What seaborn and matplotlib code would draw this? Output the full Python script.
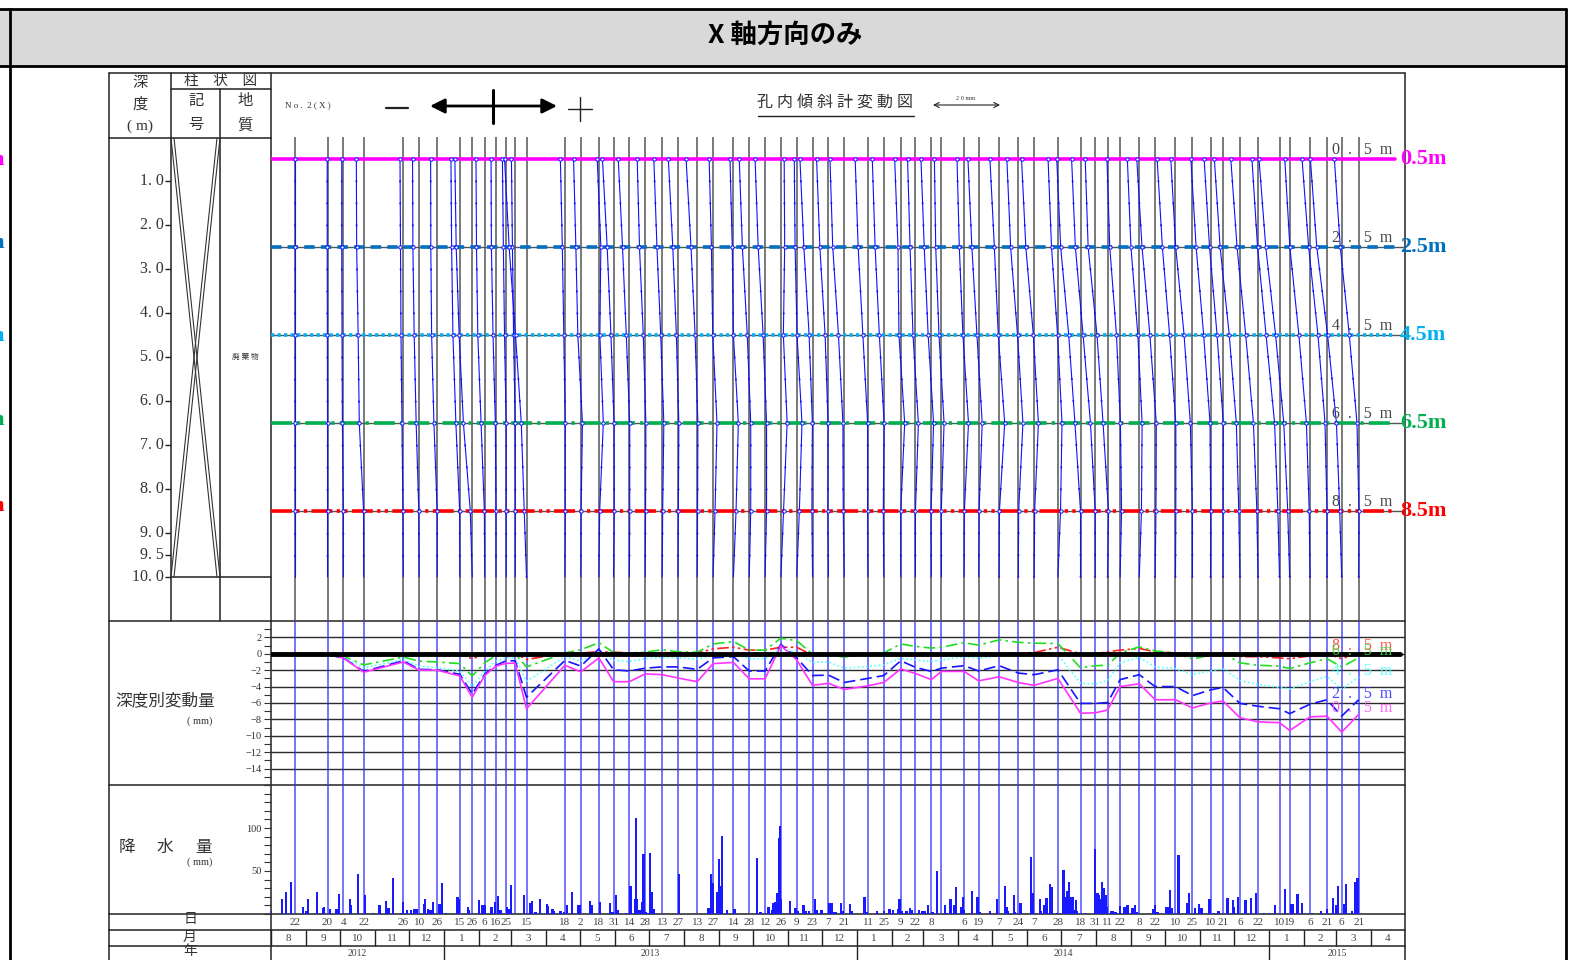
import numpy as np
import pandas as pd
import matplotlib
matplotlib.use('Agg')
import matplotlib.pyplot as plt
import matplotlib.dates as mdates
import matplotlib.transforms as mtrans
import seaborn as sns

sns.set_theme(style='white')
plt.rcParams['font.family'] = ['Liberation Serif', 'Noto Sans CJK JP']
plt.rcParams['axes.unicode_minus'] = True

# measurement dates (one profile each)
meas_dates = [
    '2012-08-22', '2012-09-20', '2012-10-04', '2012-10-22', '2012-11-26', '2012-12-10', '2012-12-26',
    '2013-01-15', '2013-01-26', '2013-02-06', '2013-02-16', '2013-02-25', '2013-03-05', '2013-03-15',
    '2013-04-18', '2013-05-02', '2013-05-18', '2013-05-31', '2013-06-14', '2013-06-28', '2013-07-13',
    '2013-07-27', '2013-08-13', '2013-08-27', '2013-09-14', '2013-09-28', '2013-10-12', '2013-10-26',
    '2013-11-09', '2013-11-23', '2013-12-07', '2013-12-21',
    '2014-01-11', '2014-01-25', '2014-02-09', '2014-02-22', '2014-03-08', '2014-03-17', '2014-04-06',
    '2014-04-19', '2014-05-07', '2014-05-24', '2014-06-07', '2014-06-28', '2014-07-18', '2014-07-31',
    '2014-08-11', '2014-08-22', '2014-09-08', '2014-09-22', '2014-10-10', '2014-10-25', '2014-11-10',
    '2014-11-21', '2014-12-06', '2014-12-22',
    '2015-01-10', '2015-01-19', '2015-02-06', '2015-02-21', '2015-03-06', '2015-03-21']
unlabeled_dates = ['2013-03-05', '2014-03-17']

# displacement by depth (mm)
disp_05 = [0, -0.1, -0.5, -2.25, -1.0, -2.0, -2.0,
           -2.7, -5.3, -2.65, -1.5, -1.15, -1.15, -6.7,
           -1.4, -2.2, -0.5, -3.4, -3.4, -2.45, -2.55,
           -2.95, -3.4, -1.2, -1.05, -3.05, -3.05, 1.0,
           -0.75, -3.85, -3.6, -4.35,
           -3.9, -3.5, -1.85, -2.4, -3.15, -2.15, -2.15,
           -3.3, -2.8, -3.5, -3.85, -3.0, -7.25, -7.2,
           -6.85, -4.0, -3.65, -5.6, -5.6, -6.6, -6.0,
           -5.75, -7.8, -8.3,
           -8.4, -9.35, -7.7, -7.6, -9.55, -7.4]
disp_25 = [0, -0.1, -0.5, -2.15, -0.85, -1.9, -1.95,
           -2.5, -4.9, -2.5, -1.4, -0.85, -0.85, -5.3,
           -0.8, -1.5, 0.6, -1.95, -2.1, -1.75, -1.6,
           -1.6, -1.9, -0.5, -0.35, -2.1, -2.1, 1.15,
           -0.5, -2.65, -2.6, -3.5,
           -3.0, -2.65, -0.85, -1.65, -2.15, -1.75, -1.45,
           -2.1, -1.45, -2.35, -2.55, -1.95, -6.05, -6.05,
           -5.95, -3.15, -2.55, -4.0, -4.0, -5.1, -4.4,
           -4.1, -6.05, -6.4,
           -6.7, -7.3, -6.15, -5.6, -7.6, -5.6]
disp_45 = [0, -0.05, -0.4, -1.7, -0.7, -1.5, -1.7,
           -2.1, -4.0, -2.1, -0.9, -0.5, -0.5, -3.35,
           -0.35, -0.9, 0.3, -0.8, -0.95, -0.6, -0.45,
           -0.5, -0.65, -0.1, 0.0, -0.6, -0.6, 0.75,
           0.1, -1.05, -1.0, -1.75,
           -1.55, -1.35, -0.55, -0.75, -0.95, -0.75, -0.35,
           -0.55, -0.25, -0.25, -0.25, -0.1, -3.6, -3.7,
           -3.25, -1.1, -0.45, -1.6, -1.8, -2.55, -2.1,
           -1.8, -3.25, -3.75,
           -4.1, -4.3, -3.4, -2.75, -4.3, -2.85]
disp_65 = [0, 0, -0.3, -1.35, -0.4, -0.9, -1.0,
           -1.2, -2.7, -1.1, -0.2, 0, 0, -1.6,
           0.1, 0.5, 1.35, 0.15, 0.1, 0.2, 0.5,
           0.25, 0.2, 1.2, 1.5, 0.45, 0.45, 1.9,
           1.6, -0.05, -0.1, -0.4,
           -0.1, 0.1, 1.2, 0.9, 0.7, 0.8, 1.35,
           1.05, 1.7, 1.4, 1.3, 1.25, -1.7, -1.45,
           -1.4, 0.1, 0.85, 0.35, 0.1, -0.65, -0.15,
           0.1, -1.1, -1.4,
           -1.5, -1.8, -1.1, -0.6, -1.6, -0.5]
disp_85 = [0, 0, 0, -0.05, -0.1, -0.1, 0,
           -0.05, -0.6, -0.1, 0, 0, 0.05, -0.7,
           0.1, 0.1, 0.25, 0.2, 0.1, 0.1, 0.15,
           0.1, 0.1, 0.6, 0.8, 0.45, 0.45, 0.8,
           0.8, -0.2, -0.15, -0.3,
           -0.1, -0.15, 0, 0, -0.05, -0.05, 0.1,
           0.1, 0.1, 0.1, 0.15, 0.8, 0, 0,
           0.25, 0.45, 0.65, 0.25, 0.1, 0, 0.05,
           0.05, -0.35, -0.35,
           -0.5, -0.6, -0.25, 0, -0.6, 0.1]

# daily rainfall (days since 2012-08-01, mm)
rain_day = [0, 10, 13, 18, 28, 31, 33, 41, 46, 47, 52, 58, 60, 70, 71, 77, 83, 90, 96, 102,
            104, 108, 115, 117, 120, 124, 127, 129, 135, 136, 139, 141, 143, 149, 151, 155, 165, 166, 174, 175,
            184, 187, 189, 195, 198, 201, 203, 209, 211, 212, 224, 229, 231, 234, 238, 244, 245, 249, 250, 256,
            259, 262, 266, 272, 273, 282, 284, 291, 300, 302, 305, 307, 314, 318, 322, 323, 324, 326, 328, 329,
            330, 332, 333, 335, 337, 339, 361, 387, 389, 391, 395, 396, 398, 399, 403, 410, 430, 433, 440, 443,
            444, 446, 448, 449, 450, 451, 459, 464, 466, 471, 473, 476, 481, 483, 487, 494, 496, 498,
            500, 504, 506, 512, 514, 525, 527, 536, 542, 547, 550, 555, 556, 558, 562, 565, 567, 573, 576, 578,
            581, 585, 589, 596, 598, 601, 604, 606, 610, 612, 613, 620, 625, 627, 636, 642, 649, 651, 652, 657,
            658, 663, 672, 674, 680, 681, 684, 686, 689, 691, 695, 701, 703, 704, 706, 708, 709, 711, 712, 713,
            720, 729, 731, 732, 734, 735, 737, 738, 739, 743, 745, 747, 751, 755, 757, 758, 762, 764, 766, 780,
            782, 784, 792, 793, 795, 797, 802, 803, 810, 812, 817, 821, 823, 830, 834, 838, 846, 851, 852, 855,
            862, 867, 871, 878, 883, 888, 897, 902, 904, 908, 912, 921, 929, 934, 939, 942, 944, 949, 951, 956,
            959, 961]
rain_mm = [3, 17, 26, 37, 8, 3, 17, 26, 7, 8, 6, 6, 23, 18, 11, 47, 22, 1, 10, 15,
           7, 42, 1, 14, 5, 5, 6, 6, 12, 17, 6, 5, 14, 12, 36, 1, 20, 17, 8, 5,
           16, 11, 11, 8, 14, 21, 5, 8, 6, 34, 22, 13, 15, 2, 17, 12, 9, 6, 3, 3,
           2, 10, 26, 10, 10, 15, 10, 14, 13, 2, 22, 5, 1, 33, 17, 112, 18, 5, 14, 70,
           70, 2, 1, 71, 26, 6, 47, 7, 47, 36, 26, 64, 33, 91, 5, 6, 65, 2, 8, 5,
           13, 14, 24, 88, 102, 17, 15, 7, 3, 10, 3, 3, 17, 5, 5, 13, 13, 2,
           2, 13, 3, 12, 3, 20, 2, 3, 3, 6, 5, 6, 17, 3, 3, 7, 5, 5, 4, 3,
           10, 2, 50, 10, 1, 17, 10, 31, 8, 20, 5, 27, 20, 2, 3, 17, 33, 8, 4, 22,
           2, 13, 66, 25, 18, 3, 10, 19, 35, 31, 1, 51, 20, 27, 37, 20, 20, 5, 16, 3,
           1, 76, 24, 22, 17, 37, 30, 22, 8, 3, 3, 2, 9, 8, 10, 10, 7, 10, 2, 6,
           10, 2, 8, 8, 28, 7, 69, 69, 13, 24, 7, 12, 7, 18, 1, 3, 19, 16, 8, 20,
           16, 19, 24, 1, 1, 10, 29, 12, 12, 23, 13, 1, 3, 6, 19, 10, 32, 12, 35, 3,
           37, 42]

depth_ticks = [1.0, 2.0, 3.0, 4.0, 5.0, 6.0, 7.0, 8.0, 9.0, 9.5, 10.0]
ref_depths = [0.5, 2.5, 4.5, 6.5, 8.5]

W, H = 1573, 960
fig = plt.figure(figsize=(W / 100, H / 100), dpi=100)


def rect(x0, y0, x1, y1):
    return [x0 / W, 1 - y1 / H, (x1 - x0) / W, (y1 - y0) / H]


# background / frame layer in pixel units
bg = fig.add_axes([0, 0, 1, 1], zorder=0)
bg.set_xlim(0, W)
bg.set_ylim(H, 0)
bg.axis('off')

bg.add_patch(plt.Rectangle((0, 9), 1566, 57, color='#d9d9d9', lw=0))
for y in (9, 66):
    bg.plot([0, 1566], [y, y], color='black', lw=2)
for x in (10, 1566):
    bg.plot([x, x], [9, H], color='black', lw=2)
bg.text(785, 35, 'X 軸方向のみ', ha='center', va='center', fontsize=19, fontweight='bold',
        family=['Noto Sans CJK JP'], color='black')

# cut-off labels of the neighbouring sheet at the left edge
ref_colors = ['#ff00ff', '#0070c0', '#00b0f0', '#00b050', '#ff0000']
for yy, c in zip((160, 243, 336, 420, 506), ref_colors):
    bg.text(4, yy, 'm', ha='right', va='center', fontsize=16, fontweight='bold', color=c)

ln = dict(color='#222222', lw=1.1)
bg.plot([109, 1405], [73, 73], **ln)
for x in (109, 271, 1405):
    bg.plot([x, x], [73, H], **ln)
bg.plot([171, 171], [73, 621], **ln)
bg.plot([220, 220], [89, 621], **ln)
bg.plot([171, 271], [89, 89], **ln)
bg.plot([109, 271], [138, 138], **ln)
bg.plot([171, 271], [577, 577], **ln)
for y in (621, 785, 914, 930, 946):
    bg.plot([109, 1405], [y, y], **ln)
# X mark in column
for dx in (0, 3):
    bg.plot([171 + dx, 217 + dx], [138, 577], color='#333333', lw=0.8)
    bg.plot([220 - dx, 174 - dx], [138, 577], color='#333333', lw=0.8)

tc = '#333333'
for s, y in (('深', 83), ('度', 104), ('( m)', 126)):
    bg.text(140, y, s, ha='center', va='center', fontsize=11, color=tc)
bg.text(221, 81, '柱　状　図', ha='center', va='center', fontsize=10.5, color=tc)
for s, x, y in (('記', 196, 101), ('号', 196, 125), ('地', 245, 101), ('質', 245, 125)):
    bg.text(x, y, s, ha='center', va='center', fontsize=11, color=tc)
bg.text(245, 357, '廃 棄 物', ha='center', va='center', fontsize=5.5, color=tc)
bg.text(285, 105, 'N o .  2 ( X )', ha='left', va='center', fontsize=6.5, color=tc)
bg.plot([386, 408], [108, 108], color='#222222', lw=1.6)
bg.annotate('', xy=(557, 106), xytext=(430, 106),
            arrowprops=dict(arrowstyle='<|-|>', color='black', lw=2, mutation_scale=22,
                            shrinkA=0, shrinkB=0))
bg.plot([493, 493], [90, 123], color='black', lw=2.2)
bg.plot([568, 592], [109, 109], color='#222222', lw=1)
bg.plot([580, 580], [97, 121], color='#222222', lw=1)
bg.text(835, 104, '孔 内 傾 斜 計 変 動 図', ha='center', va='center', fontsize=11.5, color=tc)
bg.plot([758, 914], [116, 116], color='#222222', lw=1)
bg.annotate('', xy=(1000, 105), xytext=(933, 105),
            arrowprops=dict(arrowstyle='<->', color='#222222', lw=0.8, mutation_scale=9,
                            shrinkA=0, shrinkB=0))
bg.text(966, 98, '2 0 mm', ha='center', va='center', fontsize=4.5, color=tc)

bg.text(115, 701, '深度別変動量', ha='left', va='center', fontsize=12, color=tc)
bg.text(200, 721, '( mm)', ha='center', va='center', fontsize=7.5, color=tc)
for s, x in (('降', 127), ('水', 165), ('量', 204)):
    bg.text(x, 848, s, ha='center', va='center', fontsize=12, color=tc)
bg.text(200, 862, '( mm)', ha='center', va='center', fontsize=7.5, color=tc)
for s, y in (('日', 920), ('月', 937), ('年', 952)):
    bg.text(190, y, s, ha='center', va='center', fontsize=10, color=tc)

# date scale shared by all panels
x0 = mdates.date2num(pd.Timestamp('2012-08-01'))
x1 = mdates.date2num(pd.Timestamp('2015-05-01'))
xd = mdates.date2num(pd.to_datetime(meas_dates).to_pydatetime())


def panel(y0, y1):
    ax = fig.add_axes(rect(271, y0, 1405, y1), zorder=2)
    ax.patch.set_alpha(0)
    for sp in ax.spines.values():
        sp.set_visible(False)
    ax.set_xlim(x0, x1)
    ax.set_xticks([])
    return ax


# --- profile panel
ax_p = panel(137, 621)
ax_p.set_ylim(11, 0)
ax_p.set_yticks([])
ax_p.vlines(xd, 0, 11, color='#555555', lw=1.1, zorder=1)
ax_p.hlines(ref_depths[1:], x0, x1, color='#555555', lw=1, zorder=1)

mm_to_days = 2.9
prof_depths = ref_depths + [10.0]
for i, d in enumerate(xd):
    vals = np.array([disp_05[i], disp_25[i], disp_45[i], disp_65[i], disp_85[i], 0.0])
    xs = d + vals * mm_to_days
    ax_p.plot(xs, prof_depths, color='#1010ff', lw=0.8, zorder=4)
    ax_p.plot(xs, prof_depths, color='#1010ff', lw=1.3, dashes=(0.3, 11.9),
              dash_capstyle='round', zorder=4)
    ax_p.plot(xs[:-1], prof_depths[:-1], ls='none', marker='o', ms=2.4, mfc='white',
              mec='#1010ff', mew=0.7, zorder=5)

ref_dashes = [None, (2.9, 1.7), (0.9, 0.9), (5.8, 1.4, 0.9, 1.4), (5.8, 1.2, 0.9, 1.2, 0.9, 1.2)]
blend = mtrans.blended_transform_factory(ax_p.transAxes, ax_p.transData)
for dep, c, ds in zip(ref_depths, ref_colors, ref_dashes):
    l = ax_p.axhline(dep, xmin=0, xmax=0.991, color=c, lw=2.6, zorder=3)
    if ds is not None:
        l.set_dashes(ds)
    ax_p.text(0.9885, dep - 0.03, f'{int(dep)}  .   5  m', transform=blend, ha='right', va='bottom',
              fontsize=11.5, color='#444444', zorder=6)
    ax_p.text(0.9955, dep, f'{dep}m', transform=blend, ha='left', va='center', fontsize=16,
              fontweight='bold', color=c, clip_on=False, zorder=6)

# depth scale in the left column
ax_dep = fig.add_axes(rect(109, 137, 171, 621), zorder=2)
ax_dep.patch.set_alpha(0)
ax_dep.axis('off')
ax_dep.set_xlim(0, 1)
ax_dep.set_ylim(11, 0)
ax_dep.hlines(depth_ticks, 0.9, 1.0, color='#222222', lw=1)
for dep in depth_ticks:
    ax_dep.text(0.88, dep, f'{dep:.1f}'.replace('.', '. '), ha='right', va='center',
                fontsize=11.5, color=tc)

# --- displacement panel
ax_d = panel(621, 785)
ax_d.set_ylim(-16, 4)
ax_d.hlines(np.arange(-14, 3, 2), x0, x1, color='#2a2a2a', lw=1, zorder=1)
ax_d.axhline(0, xmax=0.996, color='black', lw=3.5, zorder=6)
ax_d.vlines(xd, -16, 4, color='#2e2eff', lw=1.1, alpha=0.85, zorder=2)
series = [(disp_85, '#ff2020', (7, 2, 1.5, 2, 1.5, 2)), (disp_65, '#22dd22', (7, 2.5, 1.5, 2.5)),
          (disp_45, '#55ffff', (1, 1.5)), (disp_25, '#1515ff', (7, 3)), (disp_05, '#ff33ff', None)]
for vals, c, ds in series:
    sns.lineplot(x=xd, y=vals, ax=ax_d, color=c, lw=1.2, zorder=5)
    if ds is not None:
        ax_d.lines[-1].set_dashes(ds)
ax_d.set_yticks(np.arange(-14, 3, 2))
ax_d.set_yticks(np.arange(-16, 4, 1), minor=True)
ax_d.set_yticklabels([f'{v}'.replace('-', '\u2212') for v in range(-14, 3, 2)])
ax_d.tick_params(axis='y', which='both', direction='out', length=5, width=0.8, color='#333333',
                 labelsize=7.5, labelcolor='#333333', pad=2, left=True)
ax_d.set_ylabel('')
dl_blend = mtrans.blended_transform_factory(ax_d.transAxes, ax_d.transData)
disp_labels = [('8  .   5  m', '#ff4040', 0.95), ('6  .   5  m', '#44dd44', 0.3),
               ('4  .   5  m', '#55ffff', -2.05), ('2  .   5  m', '#3333ff', -4.85),
               ('0  .   5  m', '#ff55ff', -6.6)]
for s, c, yv in disp_labels:
    ax_d.text(0.9356, yv, s, transform=dl_blend, ha='left', va='center', fontsize=11.5, color=c,
              alpha=0.9, zorder=7)

# --- rainfall panel
ax_r = panel(785, 914)
ax_r.set_ylim(0, 150)
rain_x = mdates.date2num((pd.Timestamp('2012-08-01') + pd.to_timedelta(rain_day, unit='D')).to_pydatetime())
ax_r.vlines(xd, 0, 150, color='#2e2eff', lw=1.1, alpha=0.85, zorder=2)
ax_r.bar(rain_x, rain_mm, width=2.0, color='#1a1aff', edgecolor='none', zorder=3)
ax_r.set_yticks([50, 100])
ax_r.set_yticks(np.arange(0, 151, 10), minor=True)
ax_r.tick_params(axis='y', which='both', direction='out', length=5, width=0.8, color='#333333',
                 labelsize=7.5, labelcolor='#333333', pad=2, left=True)

# --- calendar rows
ax_c = panel(914, 962)
ax_c.set_ylim(3, 0)
ax_c.set_yticks([])
for d, s in zip(xd, meas_dates):
    if s not in unlabeled_dates:
        ax_c.text(d, 0.55, str(int(s[-2:])), ha='center', va='center', fontsize=8, color='#444444')
months = pd.date_range('2012-08-01', '2015-05-01', freq='MS')
mx = mdates.date2num(months.to_pydatetime())
ax_c.vlines(mx, 1, 2, color='#222222', lw=1)
for a, b, m in zip(mx[:-1], mx[1:], months[:-1]):
    ax_c.text((a + b) / 2, 1.55, str(m.month), ha='center', va='center', fontsize=8, color='#444444')
years = [2012, 2013, 2014, 2015]
for yr in years:
    a = max(x0, mdates.date2num(pd.Timestamp(f'{yr}-01-01')))
    b = min(x1, mdates.date2num(pd.Timestamp(f'{yr + 1}-01-01')))
    if yr > years[0]:
        ax_c.vlines(a, 2, 3, color='#222222', lw=1)
    ax_c.text((a + b) / 2, 2.45, str(yr), ha='center', va='center', fontsize=7, color='#444444')

fig.savefig('out.png', dpi=100)
